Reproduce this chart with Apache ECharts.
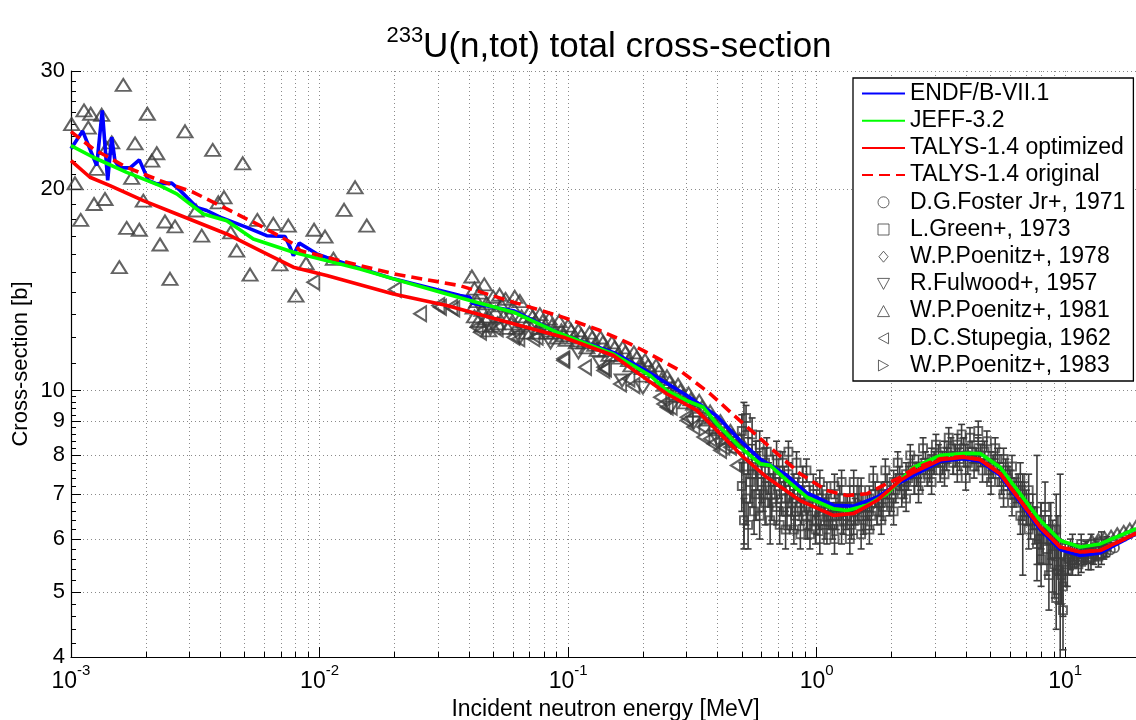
<!DOCTYPE html>
<html><head><meta charset="utf-8">
<script src="https://cdn.jsdelivr.net/npm/echarts@6.0.0/dist/echarts.min.js"></script>
<style>html,body{margin:0;padding:0;background:#fff}#c{width:1136px;height:720px}</style>
</head><body><div id="c"></div>
<script>
const FONT = '"Liberation Sans", Arial, Helvetica, sans-serif';

// ---- evaluated curves [E (MeV), sigma (b)] ----
const endf = [[0.001,22.96],[0.001114,24.4],[0.001229,22.3],[0.001269,21.67],[0.001336,26.2],[0.001405,20.6],[0.001458,23.9],[0.001503,22.0],[0.001575,21.5],[0.001728,21.5],[0.001883,22.1],[0.002047,20.6],[0.002213,20.35],[0.002542,20.4],[0.002746,19.9],[0.003205,18.77],[0.003516,18.57],[0.003978,18.15],[0.005093,17.52],[0.00613,17.03],[0.007265,16.98],[0.00761,16.37],[0.007845,15.9],[0.00829,16.6],[0.00974,16.0],[0.01068,15.8],[0.01982,14.68],[0.03675,13.86],[0.0403,13.78],[0.0411,13.5],[0.06026,13.16],[0.093,12.15],[0.1521,11.4],[0.2138,10.62],[0.3004,9.83],[0.3966,9.16],[0.4922,8.42],[0.5925,7.9],[0.7589,7.47],[0.9133,7.03],[1.168,6.74],[1.407,6.72],[1.747,6.93],[2.168,7.29],[3.141,7.84],[3.897,7.91],[4.55,7.84],[5.475,7.47],[6.592,6.81],[7.932,6.2],[9.548,5.79],[11.49,5.67],[13.83,5.72],[19.31,6.11]];
const jeff = [[0.001,23.21],[0.001229,22.3],[0.001675,21.17],[0.002281,20.23],[0.002663,19.66],[0.003408,18.35],[0.004233,17.93],[0.005416,16.84],[0.007846,16.09],[0.00944,15.81],[0.01455,15.19],[0.01982,14.68],[0.0325,13.94],[0.04034,13.63],[0.06026,13.09],[0.09006,12.22],[0.1521,11.34],[0.2138,10.53],[0.2496,10.0],[0.3004,9.66],[0.3503,9.44],[0.3966,8.92],[0.4922,8.23],[0.5925,7.77],[0.6501,7.73],[0.7589,7.34],[0.9133,6.93],[1.168,6.66],[1.323,6.62],[1.592,6.74],[1.917,7.01],[2.453,7.68],[3.141,8.0],[4.021,8.06],[4.55,8.05],[5.475,7.68],[6.592,7.01],[7.932,6.4],[9.548,5.97],[11.49,5.84],[13.83,5.9],[19.31,6.22]];
const talysOpt = [[0.001,22.04],[0.001192,20.82],[0.001435,20.23],[0.001954,19.21],[0.002663,18.35],[0.004233,17.13],[0.005763,16.18],[0.007846,15.28],[0.01069,14.85],[0.01982,13.94],[0.0325,13.39],[0.06026,12.58],[0.0957,12.01],[0.1521,11.28],[0.2009,10.47],[0.2496,9.89],[0.3296,9.34],[0.3843,8.82],[0.5075,7.95],[0.6303,7.42],[0.8583,6.85],[1.168,6.51],[1.407,6.55],[1.747,6.85],[2.168,7.34],[2.453,7.55],[3.141,7.88],[3.897,7.95],[4.55,7.88],[5.475,7.51],[6.592,6.85],[7.932,6.25],[9.548,5.84],[11.49,5.74],[13.83,5.77],[19.31,6.12]];
const talysOrig = [[0.001,24.36],[0.001229,22.95],[0.001675,21.54],[0.002281,20.58],[0.003106,19.77],[0.004233,18.67],[0.005763,17.63],[0.007846,16.56],[0.008346,16.18],[0.01069,15.81],[0.01982,14.94],[0.03675,14.34],[0.06026,13.55],[0.0957,12.86],[0.1345,12.29],[0.1776,11.74],[0.2009,11.47],[0.2824,10.71],[0.3727,9.89],[0.5075,8.92],[0.6703,8.14],[0.8583,7.51],[1.099,7.09],[1.323,6.97],[1.592,7.01],[1.917,7.26],[2.168,7.42],[2.453,7.64],[3.141,7.91],[3.897,7.97],[4.55,7.89],[5.475,7.52],[6.592,6.85],[7.932,6.25],[9.548,5.84],[11.49,5.74],[13.83,5.77],[19.31,6.12]];

// ---- experimental data ----
const foster1971 = [[10.3,5.62],[10.8,5.58],[11.3,5.6],[11.8,5.62],[12.3,5.6],[12.8,5.64],[13.4,5.66],[14.0,5.7],[14.6,5.72],[15.2,5.78],[15.8,5.82]];
// [E, sigma, +/- error]
const green1973 = [[0.50,7.2,0.6],[0.50,8.7,0.5],[0.51,6.4,0.5],[0.51,7.7,1.9],[0.52,9.1,0.4],[0.52,6.9,0.6],[0.53,8.0,0.5],[0.53,6.3,0.5],[0.55,7.5,0.8],[0.55,8.6,0.5],[0.56,6.6,0.5],[0.57,7.9,0.5],[0.57,7.0,0.6],[0.59,8.3,0.4],[0.59,6.5,0.5],[0.60,7.3,0.5],[0.62,7.8,0.4],[0.62,6.8,0.5],[0.63,8.1,0.4],[0.65,7.1,0.4],[0.65,6.4,0.5],[0.67,7.6,0.4],[0.69,8.0,0.4],[0.69,6.7,0.4],[0.71,7.3,0.4],[0.71,6.3,0.4],[0.73,7.8,0.3],[0.75,6.9,0.4],[0.75,6.2,0.4],[0.77,7.5,0.3],[0.77,8.1,0.3],[0.79,6.6,0.4],[0.81,7.2,0.3],[0.81,6.2,0.3],[0.83,7.8,0.3],[0.86,6.8,0.3],[0.86,6.1,0.3],[0.88,7.4,0.3],[0.91,6.5,0.3],[0.91,7.6,0.3],[0.94,6.9,0.3],[0.94,6.1,0.3],[0.97,7.2,0.3],[1.00,6.4,0.3],[1.00,6.8,0.3],[1.03,6.0,0.3],[1.03,7.3,0.3],[1.07,6.6,0.3],[1.10,6.2,0.3],[1.10,7.0,0.3],[1.14,6.5,0.3],[1.18,6.0,0.3],[1.18,7.2,0.3],[1.22,6.7,0.3],[1.26,6.2,0.3],[1.26,7.3,0.3],[1.31,6.5,0.3],[1.36,6.0,0.3],[1.36,6.9,0.3],[1.41,6.4,0.3],[1.41,7.3,0.3],[1.46,6.7,0.3],[1.51,6.1,0.3],[1.51,7.1,0.3],[1.57,6.5,0.3],[1.63,6.9,0.3],[1.63,6.2,0.3],[1.69,7.4,0.3],[1.75,6.6,0.3],[1.82,7.0,0.3],[1.82,6.4,0.3],[1.89,7.6,0.3],[1.96,6.8,0.3],[2.04,7.3,0.3],[2.04,6.6,0.3],[2.12,7.8,0.3],[2.20,7.0,0.3],[2.29,7.5,0.3],[2.29,6.9,0.3],[2.38,8.0,0.3],[2.47,7.3,0.3],[2.57,7.7,0.3],[2.57,7.1,0.3],[2.68,8.2,0.3],[2.79,7.5,0.3],[2.90,7.9,0.3],[2.90,7.3,0.3],[3.02,8.3,0.3],[3.14,7.6,0.3],[3.27,8.1,0.3],[3.27,7.5,0.3],[3.40,8.5,0.3],[3.54,7.8,0.3],[3.68,8.3,0.3],[3.68,7.6,0.3],[3.83,8.6,0.3],[3.98,7.4,0.3],[3.98,8.0,0.3],[4.14,8.5,0.3],[4.30,7.7,0.3],[4.47,8.2,0.3],[4.47,8.7,0.3],[4.65,7.6,0.3],[4.84,8.4,0.3],[5.03,7.8,0.3],[5.03,7.3,0.3],[5.23,8.2,0.3],[5.44,7.5,0.3],[5.65,7.9,0.3],[5.65,7.0,0.3],[5.88,7.4,0.3],[6.11,6.8,0.3],[6.11,7.7,0.3],[6.35,7.1,0.3],[6.60,6.5,0.4],[6.60,7.4,0.4],[6.75,6.4,1.1],[6.86,6.9,0.4],[7.13,6.2,0.4],[7.13,7.1,0.4],[7.41,6.6,0.4],[7.70,6.6,1.4],[7.70,5.9,0.4],[8.00,6.3,0.5],[8.00,5.6,0.5],[8.30,6.7,0.6],[8.60,5.3,0.6],[8.60,6.0,0.5],[8.90,5.7,0.7],[9.20,6.2,0.8],[9.20,4.9,0.5],[9.40,5.4,0.6],[9.55,5.7,1.8],[9.80,4.7,0.6],[9.80,5.1,0.5],[10.0,5.5,0.4],[10.3,5.6,0.3],[10.7,5.8,0.3],[10.7,5.5,0.2],[11.1,5.7,0.2],[11.6,5.9,0.2],[11.6,5.55,0.2],[12.1,5.75,0.2],[12.7,5.9,0.2],[12.7,5.6,0.2],[13.3,5.8,0.2],[14.0,5.95,0.2],[14.0,5.7,0.2],[14.7,5.85,0.2],
 [0.54,7.3,0.5],[0.58,7.6,0.5],[0.61,7.0,0.4],[0.64,7.4,0.4],[0.66,6.8,0.4],[0.68,7.3,0.4],[0.72,6.9,0.4],[0.74,7.4,0.3],[0.76,6.6,0.4],[0.78,7.1,0.3],[0.80,6.8,0.3],[0.82,6.5,0.3],[0.84,7.1,0.3],[0.87,6.6,0.3],[0.89,6.9,0.3],[0.92,6.3,0.3],[0.96,6.6,0.3],[0.99,6.2,0.3],[1.02,6.5,0.3],[1.05,6.9,0.3],[1.08,6.3,0.3],[1.12,6.7,0.3],[1.16,6.3,0.3],[1.20,6.5,0.3],[1.24,6.9,0.3],[1.28,6.4,0.3],[1.33,6.7,0.3],[1.38,6.3,0.3],[1.43,6.6,0.3],[1.48,6.9,0.3],[1.54,6.4,0.3],[1.60,6.7,0.3],[1.66,6.5,0.3],[1.72,7.0,0.3],[1.78,6.8,0.3],[1.85,6.7,0.3],[1.92,7.2,0.3],[2.00,6.9,0.3],[2.08,7.1,0.3],[2.16,7.4,0.3],[2.25,7.2,0.3],[2.34,7.4,0.3],[2.43,7.7,0.3],[2.52,7.5,0.3],[2.62,7.4,0.3],[2.74,7.8,0.3],[2.85,7.6,0.3],[2.97,7.8,0.3],[3.09,8.0,0.3],[3.21,7.8,0.3],[3.34,7.9,0.3],[3.47,8.2,0.3],[3.61,8.0,0.3],[3.76,7.9,0.3],[3.91,8.2,0.3],[4.06,7.8,0.3],[4.22,8.1,0.3],[4.38,7.9,0.3],[4.56,8.0,0.3],[4.74,8.1,0.3],[4.93,7.6,0.3],[5.13,7.7,0.3],[5.34,7.9,0.3],[5.55,7.3,0.3],[5.77,7.6,0.3],[6.00,7.3,0.3],[6.23,7.0,0.3],[6.47,7.2,0.3],[6.72,6.8,0.4],[6.98,6.7,0.4],[7.26,6.4,0.4],[7.55,6.3,0.4],[7.85,6.0,0.5],[8.15,6.0,0.5],[8.45,5.8,0.5],[8.75,6.2,0.6],[9.05,5.5,0.6],[9.35,5.9,0.6],[9.65,5.3,0.5],[10.2,5.4,0.3],[10.5,5.7,0.3],[10.9,5.65,0.2],[11.3,5.5,0.2],[11.9,5.7,0.2],[12.4,5.6,0.2],[13.0,5.7,0.2],[13.6,5.65,0.2],[14.3,5.8,0.2]];
const poenitz1978 = [[1.2,6.6],[1.7,6.8],[2.4,7.5],[3.3,7.9],[4.6,7.9]];
const fulwood1957 = [[0.0486,12.36],[0.064,12.0],[0.085,11.8],[0.11,11.4],[0.135,11.0],[0.165,10.35],[0.2,10.1],[0.259,9.44],[0.32,8.95],[0.4,8.45]];
const poenitz1981 = [[0.001006,25.0],[0.001128,26.2],[0.0012,25.9],[0.001329,25.8],[0.001174,24.7],[0.001038,20.39],[0.001623,28.6],[0.002028,25.9],[0.00181,23.39],[0.001269,21.42],[0.001458,23.47],[0.001392,23.02],[0.002876,24.38],[0.003717,22.87],[0.004909,21.84],[0.002213,22.61],[0.002113,22.04],[0.001755,20.78],[0.001238,18.99],[0.00137,19.32],[0.001094,17.98],[0.001675,17.49],[0.001883,17.38],[0.001954,19.21],[0.002388,17.88],[0.002621,17.58],[0.002281,16.52],[0.001565,15.28],[0.002502,14.68],[0.003184,18.57],[0.003915,19.1],[0.004128,19.43],[0.003357,17.03],[0.004391,17.23],[0.004643,16.18],[0.005253,14.9],[0.00562,17.98],[0.00652,17.74],[0.007487,17.63],[0.006934,15.43],[0.00804,13.86],[0.008825,15.49],[0.009504,17.38],[0.01052,16.98],[0.01137,15.73],[0.01255,18.61],[0.0139,20.11],[0.01549,17.63],
 [0.041,14.8],[0.042,14.2],[0.042,12.9],[0.043,13.6],[0.044,14.0],[0.045,13.2],[0.045,12.5],[0.046,14.4],[0.047,13.5],[0.048,12.9],[0.048,12.3],[0.05,13.8],[0.051,13.1],[0.052,12.6],[0.054,13.4],[0.056,13.7],[0.057,12.4],[0.058,12.9],[0.06,13.3],[0.062,12.4],[0.064,13.6],[0.066,12.7],[0.068,12.2],[0.07,13.1],[0.073,12.6],[0.075,12.2],[0.077,13.0],[0.08,12.4],[0.084,12.8],[0.088,12.2],[0.092,12.7],[0.096,12.1],[0.1,12.5],[0.105,12.0],[0.11,12.3],[0.116,11.8],[0.122,12.2],[0.128,11.7],[0.135,12.0],[0.142,11.5],[0.15,11.8],[0.158,11.3],[0.166,11.6],[0.175,11.1],[0.184,11.4],[0.194,10.9],[0.204,11.1],[0.215,10.7],[0.226,10.9],[0.238,10.4],[0.25,10.5],[0.263,10.1],[0.277,10.2],[0.29,9.8],[0.305,9.9],[0.32,9.55],[0.337,9.65],[0.355,9.2],[0.373,9.3],[0.39,8.9],[0.41,9.0],[0.43,8.65],[0.45,8.7],[0.47,8.4],[0.49,8.45],
 [0.0415,13.3],[0.0435,12.7],[0.0465,12.8],[0.0495,12.5],[0.053,13.9],[0.055,12.9],[0.059,12.6],[0.061,13.8],[0.065,12.9],[0.069,12.6],[0.072,12.9],[0.076,12.4],[0.079,12.7],[0.082,12.2],[0.086,12.5],[0.09,12.0],[0.094,12.3],[0.098,11.9],[0.103,12.3],[0.108,11.8],[0.113,12.1],[0.119,11.6],[0.125,12.0],[0.131,11.5],[0.138,11.8],[0.146,11.3],[0.154,11.6],[0.162,11.2],[0.17,11.4],[0.179,10.9],[0.189,11.2],[0.199,10.8],[0.21,10.9],[0.221,10.5],[0.232,10.7],[0.244,10.2],[0.256,10.3],[0.27,9.9],[0.283,10.0],[0.297,9.6],[0.312,9.7],[0.328,9.35],[0.346,9.45],[0.364,9.05],[0.382,9.1],[0.4,8.75],[0.42,8.8],[0.44,8.5],[0.46,8.55],[0.48,8.25],
 [12.8,5.95],[13.6,5.98],[14.4,6.02],[15.3,6.05],[16.2,6.1],[17.2,6.15],[18.2,6.2],[19.3,6.26]];
const stupegia1962 = [[0.00944,14.51],[0.0201,14.15],[0.0254,13.02],[0.03006,13.39],[0.03054,13.31],[0.0339,13.31],[0.03454,13.24],[0.04292,12.43],[0.04425,12.22],[0.05166,12.36],[0.06026,12.01],[0.0631,11.95],[0.07252,11.95],[0.0748,12.01],[0.0957,11.09],[0.0957,11.15],[0.1171,10.83],[0.1387,10.83],[0.1387,10.71],[0.1409,10.77],[0.1619,10.23],[0.1749,10.41],[0.1832,10.17],[0.2346,9.77],[0.2418,9.55],[0.2496,9.44],[0.2589,9.44],[0.3004,9.02],[0.3004,9.12],[0.3194,8.82],[0.3503,8.52],[0.3503,8.82],[0.3727,8.47],[0.3843,8.33],[0.409,8.14],[0.4217,8.23],[0.4487,8.23],[0.4775,7.73]];
const poenitz1983 = [[1.05,6.7],[1.55,6.7],[2.2,7.3],[3.0,7.8]];

// ---- ticks ----
const xMajorTicks = [0.001, 0.01, 0.1, 1, 10];
const xMinorMult = [1,2,3,4,5,6,7,8,9];
const yTicks = [4,5,6,7,8,9,10,20,30];

const xGridVals = [];
xMajorTicks.forEach(d => xMinorMult.forEach(m => { const v = +(d*m).toPrecision(3); if (v <= 20) xGridVals.push(v); }));
const yMinorVals = [];
for (let i = 1; i < 30; i++) { const v = Math.round((4 + i*0.2)*10)/10; if (v < 10 && v % 1 !== 0) yMinorVals.push(v); }
for (let v = 11; v < 30; v++) if (v !== 20) yMinorVals.push(v);

const GRAY = '#3c3c3c';
const hollow = (bw) => ({ color: 'rgba(0,0,0,0)', borderColor: GRAY, borderWidth: bw });

// legend icon shapes (kept at their own aspect ratio inside the legend)
const ICON = {
  circle: 'path://M0,5a5,5 0 1,0 10,0a5,5 0 1,0 -10,0Z',
  square: 'path://M0,0L10,0L10,10L0,10Z',
  diamond: 'path://M5,0L10,6L5,12L0,6Z',
  down: 'path://M0,0L12,0L6,11Z',
  up: 'path://M6,0L12,11L0,11Z',
  left: 'path://M0,6L11,0L11,12Z',
  right: 'path://M0,0L11,6L0,12Z'
};

const chart = echarts.init(document.getElementById('c'), null, { renderer: 'canvas', width: 1136, height: 720 });

const logX = { type: 'log', logBase: 10, min: 0.001, max: 20, gridIndex: 0, position: 'bottom' };
const logY = { type: 'log', logBase: 10, min: 4, max: 30, gridIndex: 0, position: 'left' };
const hideSym = { opacity: 0, color: 'rgba(0,0,0,0)', borderWidth: 0 };
const legSym = (name, icon) => ({ name, icon, symbolRotate: 0, itemStyle: { color: 'rgba(0,0,0,0)', borderColor: GRAY, borderWidth: 1 } });
const LW = 3.6;
const TRI = [15, 12];

const option = {
  animation: false,
  backgroundColor: '#fff',
  textStyle: { fontFamily: FONT },
  title: {
    text: '{sup|233}{b|U(n,tot) total cross-section}',
    left: 604, top: 20, textAlign: 'center',
    textStyle: { fontFamily: FONT, fontWeight: 'normal', rich: {
      sup: { fontSize: 22, fontFamily: FONT, fontWeight: 'normal', color: '#000', verticalAlign: 'top' },
      b: { fontSize: 35, fontFamily: FONT, fontWeight: 'normal', color: '#000', lineHeight: 44 }
    } }
  },
  grid: { left: 71, top: 71, right: -4, bottom: 63, containLabel: false, outerBoundsMode: 'none' },
  xAxis: [
    Object.assign({}, logX, {
      axisLine: { show: true, onZero: false, lineStyle: { color: '#000', width: 1.2 } },
      axisTick: { show: true, inside: true, length: 5, customValues: xGridVals, lineStyle: { color: '#000', width: 1 } },
      splitLine: { show: true, lineStyle: { color: '#8a8a8a', type: [1, 3], width: 1 } },
      axisLabel: {
        show: true, customValues: xMajorTicks, margin: 6,
        formatter: v => '{b|10}{sup|' + Math.round(Math.log10(v)) + '}',
        rich: {
          b: { fontSize: 23, fontFamily: FONT, color: '#000', lineHeight: 38 },
          sup: { fontSize: 15, fontFamily: FONT, color: '#000', verticalAlign: 'top' }
        }
      },
      name: 'Incident neutron energy [MeV]', nameLocation: 'middle', nameGap: 37,
      nameTextStyle: { fontSize: 23, fontFamily: FONT, color: '#000' }
    }),
    Object.assign({}, logX, {
      axisLine: { show: false },
      axisTick: { show: true, inside: true, length: 10, customValues: xMajorTicks, lineStyle: { color: '#000', width: 1 } },
      splitLine: { show: false }, axisLabel: { show: false }
    })
  ],
  yAxis: [
    Object.assign({}, logY, {
      axisLine: { show: true, onZero: false, lineStyle: { color: '#000', width: 1.2 } },
      axisTick: { show: true, inside: true, length: 10, customValues: yTicks, lineStyle: { color: '#000', width: 1 } },
      splitLine: { show: true, lineStyle: { color: '#8a8a8a', type: [1, 3], width: 1 } },
      axisLabel: { show: true, customValues: yTicks, margin: 6, fontSize: 22, fontFamily: FONT, color: '#000' },
      name: 'Cross-section [b]', nameLocation: 'middle', nameGap: 39, nameMoveOverlap: false,
      nameTextStyle: { fontSize: 22, fontFamily: FONT, color: '#000' }
    }),
    Object.assign({}, logY, {
      axisLine: { show: false },
      axisTick: { show: true, inside: true, length: 5, customValues: yMinorVals, lineStyle: { color: '#000', width: 1 } },
      splitLine: { show: false }, axisLabel: { show: false }
    })
  ],
  legend: {
    orient: 'vertical', left: 853, top: 78, z: 10,
    backgroundColor: '#fff', borderColor: '#000', borderWidth: 1.3,
    padding: [4, 8, 4, 8], itemWidth: 43, itemHeight: 11, itemGap: 4.2,
    symbolKeepAspect: true, symbolRotate: 0,
    textStyle: { fontSize: 23, fontFamily: FONT, color: '#000' },
    itemStyle: { borderWidth: 1 },
    data: [
      { name: 'ENDF/B-VII.1', itemStyle: hideSym },
      { name: 'JEFF-3.2', itemStyle: hideSym },
      { name: 'TALYS-1.4 optimized', itemStyle: hideSym },
      { name: 'TALYS-1.4 original', itemStyle: hideSym },
      legSym('D.G.Foster Jr+, 1971', ICON.circle),
      legSym('L.Green+, 1973', ICON.square),
      legSym('W.P.Poenitz+, 1978', ICON.diamond),
      legSym('R.Fulwood+, 1957', ICON.down),
      legSym('W.P.Poenitz+, 1981', ICON.up),
      legSym('D.C.Stupegia, 1962', ICON.left),
      legSym('W.P.Poenitz+, 1983', ICON.right)
    ]
  },
  series: [
    {
      type: 'custom', name: 'greenErr', z: 2, clip: true,
      data: green1973.map(d => [d[0], d[1] - d[2], d[1] + d[2]]),
      encode: { x: 0, y: [1, 2] },
      renderItem: (params, api) => {
        const x = api.value(0);
        const p1 = api.coord([x, api.value(1)]);
        const p2 = api.coord([x, api.value(2)]);
        const cw = 3.5;
        const st = { stroke: GRAY, lineWidth: 1.6 };
        return { type: 'group', children: [
          { type: 'line', shape: { x1: p1[0], y1: p1[1], x2: p2[0], y2: p2[1] }, style: st },
          { type: 'line', shape: { x1: p1[0] - cw, y1: p1[1], x2: p1[0] + cw, y2: p1[1] }, style: st },
          { type: 'line', shape: { x1: p2[0] - cw, y1: p2[1], x2: p2[0] + cw, y2: p2[1] }, style: st }
        ] };
      }
    },
    { type: 'scatter', name: 'D.G.Foster Jr+, 1971', z: 2, data: foster1971, symbol: 'circle', symbolSize: 9, itemStyle: hollow(1.8) },
    { type: 'scatter', name: 'L.Green+, 1973', z: 2, data: green1973.map(d => [d[0], d[1]]), symbol: 'rect', symbolSize: 8, itemStyle: hollow(1.9) },
    { type: 'scatter', name: 'W.P.Poenitz+, 1978', z: 2, data: poenitz1978, symbol: 'diamond', symbolSize: [9, 11], itemStyle: hollow(1.8) },
    { type: 'scatter', name: 'R.Fulwood+, 1957', z: 2, data: fulwood1957, symbol: 'triangle', symbolRotate: 180, symbolSize: TRI, itemStyle: hollow(2) },
    { type: 'scatter', name: 'W.P.Poenitz+, 1981', z: 2, data: poenitz1981, symbol: 'triangle', symbolSize: TRI, itemStyle: hollow(2) },
    { type: 'scatter', name: 'D.C.Stupegia, 1962', z: 2, data: stupegia1962, symbol: 'triangle', symbolRotate: 90, symbolSize: TRI, itemStyle: hollow(2) },
    { type: 'scatter', name: 'W.P.Poenitz+, 1983', z: 2, data: poenitz1983, symbol: 'triangle', symbolRotate: -90, symbolSize: TRI, itemStyle: hollow(2) },
    { type: 'line', name: 'ENDF/B-VII.1', z: 3, data: endf, symbol: 'none', showSymbol: false, color: '#0000ff', lineStyle: { color: '#0000ff', width: LW } },
    { type: 'line', name: 'JEFF-3.2', z: 4, data: jeff, symbol: 'none', showSymbol: false, color: '#00ff00', lineStyle: { color: '#00ff00', width: LW } },
    { type: 'line', name: 'TALYS-1.4 optimized', z: 5, data: talysOpt, symbol: 'none', showSymbol: false, color: '#ff0000', lineStyle: { color: '#ff0000', width: LW } },
    { type: 'line', name: 'TALYS-1.4 original', z: 6, data: talysOrig, symbol: 'none', showSymbol: false, color: '#ff0000', lineStyle: { color: '#ff0000', width: LW, type: [11, 6] } }
  ]
};
chart.setOption(option);
</script>
</body></html>
